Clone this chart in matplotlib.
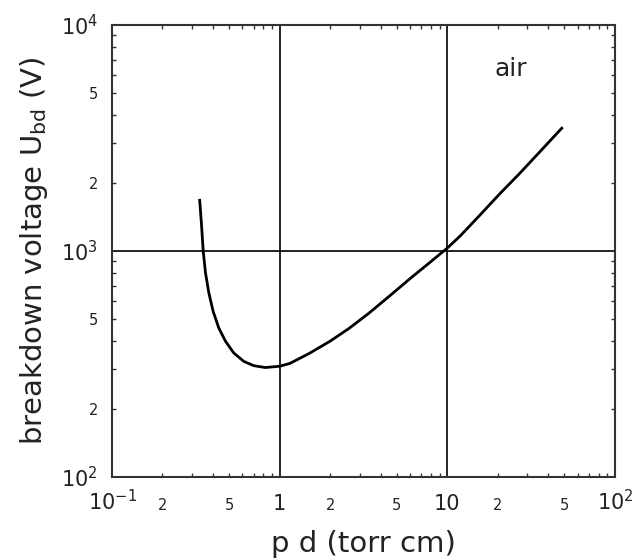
import matplotlib
matplotlib.use("Agg")
import matplotlib.pyplot as plt

# Paschen curve for air
pd_values = [0.333, 0.342, 0.350, 0.361, 0.378, 0.401, 0.433, 0.475,
             0.532, 0.610, 0.699, 0.82, 1.0, 1.15, 1.5, 2.0, 2.6, 3.4,
             4.5, 6.0, 7.8, 10.0, 12.0, 15.5, 20.4, 26.8, 35.2, 48.8]
u_bd = [1700, 1300, 998, 801, 653, 541, 457, 399,
        354, 325, 311, 305, 309, 318, 352, 399, 455, 530,
        630, 755, 885, 1030, 1170, 1430, 1780, 2190, 2720, 3530]

x_major = [0.1, 1, 10, 100]
x_major_labels = [r"$10^{-1}$", "1", "10", r"$10^{2}$"]
y_major = [100, 1000, 10000]
y_major_labels = [r"$10^{2}$", r"$10^{3}$", r"$10^{4}$"]
minor_digits = [2, 3, 4, 5, 6, 7, 8, 9]
minor_shown = [2, 5]

gas_label = "air"

plt.rcParams["font.family"] = ["DejaVu Sans"]
plt.rcParams["mathtext.fontset"] = "dejavusans"
text_color = "#222222"

fig = plt.figure(figsize=(6.35, 5.58), dpi=100)
ax = fig.add_axes([0.1764, 0.1452, 0.792, 0.810])

ax.plot(pd_values, u_bd, color="black", lw=2.0,
        solid_joinstyle="round", solid_capstyle="butt")

ax.set_xscale("log")
ax.set_yscale("log")
ax.set_xlim(0.1, 100)
ax.set_ylim(100, 10000)

# major ticks / labels
ax.set_xticks(x_major, labels=x_major_labels)
ax.set_yticks(y_major, labels=y_major_labels)

# minor ticks, only 2 and 5 labelled
x_minor, x_minor_labels = [], []
for dec in [0.1, 1, 10]:
    for d in minor_digits:
        x_minor.append(d * dec)
        x_minor_labels.append(str(d) if d in minor_shown else "")
y_minor, y_minor_labels = [], []
for dec in [100, 1000]:
    for d in minor_digits:
        y_minor.append(d * dec)
        y_minor_labels.append(str(d) if d in minor_shown else "")
ax.set_xticks(x_minor, labels=x_minor_labels, minor=True)
ax.set_yticks(y_minor, labels=y_minor_labels, minor=True)

ax.tick_params(which="both", direction="in", top=True, right=True,
               colors="#333333", labelcolor=text_color)
ax.tick_params(which="major", length=0, labelsize=15)
ax.tick_params(which="minor", length=3, width=1.0, labelsize=10.5)
ax.tick_params(axis="x", which="both", pad=24)
ax.tick_params(axis="y", which="both", pad=10)
for lab in ax.get_xticklabels(which="both"):
    lab.set_verticalalignment("baseline")

ax.grid(which="major", color="black", lw=1.2)
ax.set_axisbelow(True)

for sp in ax.spines.values():
    sp.set_color("#333333")
    sp.set_linewidth(1.5)

ax.set_xlabel("p d (torr cm)", fontsize=21, color=text_color)
ax.xaxis.set_label_coords(0.5, -0.117)
ax.set_ylabel(r"breakdown voltage U$_{\rm bd}$ (V)", fontsize=21,
              color=text_color, labelpad=8)

ax.text(24, 6400, gas_label, fontsize=18, color=text_color,
        ha="center", va="center")

fig.savefig("out.png", dpi=100)
